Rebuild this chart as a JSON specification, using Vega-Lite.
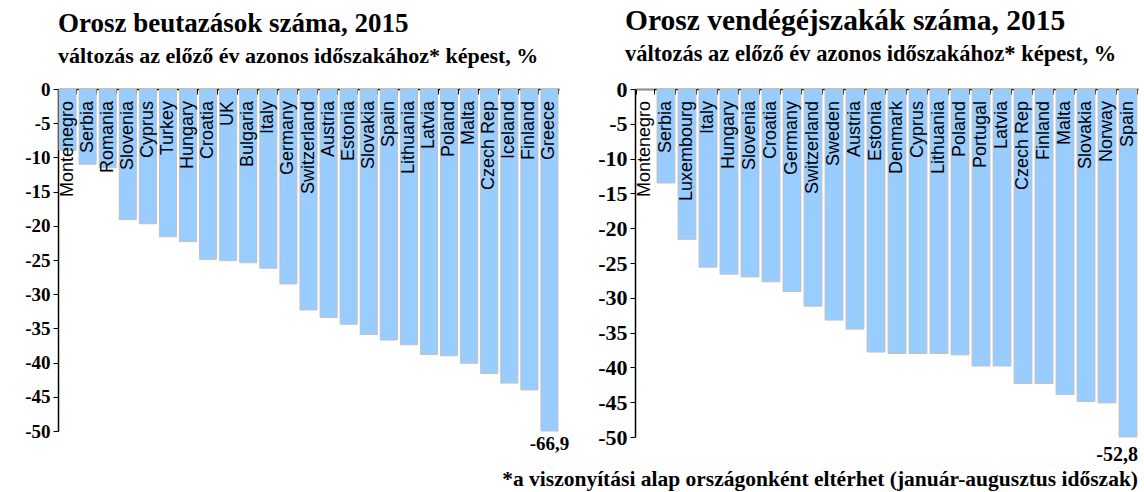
{
  "$schema": "https://vega.github.io/schema/vega-lite/v6.json",
  "padding": {"left": 24, "top": 6, "right": 6, "bottom": 0},
  "background": "white",
  "config": {
    "view": {"stroke": null},
    "locale": {"number": {"decimal": ",", "thousands": " ", "grouping": [3], "currency": ["", ""], "minus": "-"}},
    "concat": {"spacing": 27}
  },
  "datasets": {
    "beut": [
      {"country": "Montenegro", "value": -9.0},
      {"country": "Serbia", "value": -11.0},
      {"country": "Romania", "value": -11.5},
      {"country": "Slovenia", "value": -19.1},
      {"country": "Cyprus", "value": -19.7},
      {"country": "Turkey", "value": -21.6},
      {"country": "Hungary", "value": -22.3},
      {"country": "Croatia", "value": -24.9},
      {"country": "UK", "value": -25.1},
      {"country": "Bulgaria", "value": -25.4},
      {"country": "Italy", "value": -26.2},
      {"country": "Germany", "value": -28.5},
      {"country": "Switzerland", "value": -32.3},
      {"country": "Austria", "value": -33.4},
      {"country": "Estonia", "value": -34.4},
      {"country": "Slovakia", "value": -35.9},
      {"country": "Spain", "value": -36.7},
      {"country": "Lithuania", "value": -37.4},
      {"country": "Latvia", "value": -38.8},
      {"country": "Poland", "value": -39.0},
      {"country": "Malta", "value": -40.1},
      {"country": "Czech Rep", "value": -41.6},
      {"country": "Iceland", "value": -43.0},
      {"country": "Finland", "value": -44.0},
      {"country": "Greece", "value": -66.9}
    ],
    "vend": [
      {"country": "Montenegro", "value": 0},
      {"country": "Serbia", "value": -13.5},
      {"country": "Luxembourg", "value": -21.6},
      {"country": "Italy", "value": -25.6},
      {"country": "Hungary", "value": -26.6},
      {"country": "Slovenia", "value": -27.0},
      {"country": "Croatia", "value": -27.7},
      {"country": "Germany", "value": -29.1},
      {"country": "Switzerland", "value": -31.2},
      {"country": "Sweden", "value": -33.2},
      {"country": "Austria", "value": -34.5},
      {"country": "Estonia", "value": -37.8},
      {"country": "Denmark", "value": -38.0},
      {"country": "Cyprus", "value": -38.0},
      {"country": "Lithuania", "value": -38.0},
      {"country": "Poland", "value": -38.2},
      {"country": "Portugal", "value": -39.8},
      {"country": "Latvia", "value": -39.8},
      {"country": "Czech Rep", "value": -42.3},
      {"country": "Finland", "value": -42.3},
      {"country": "Malta", "value": -43.9},
      {"country": "Slovakia", "value": -44.9},
      {"country": "Norway", "value": -45.1},
      {"country": "Spain", "value": -52.8}
    ]
  },
  "title": {
    "text": "*a viszonyítási alap országonként eltérhet (január-augusztus időszak)",
    "orient": "bottom",
    "anchor": "end",
    "font": "Liberation Serif",
    "fontSize": 21.5,
    "fontWeight": "bold",
    "color": "black",
    "offset": 4
  },
  "hconcat": [
    {
      "data": {"name": "beut"},
      "width": 501,
      "height": 342,
      "title": {
        "text": "Orosz beutazások száma, 2015",
        "subtitle": "változás az előző év azonos időszakához* képest, %",
        "anchor": "start",
        "frame": "group",
        "dx": 0,
        "font": "Liberation Serif",
        "fontSize": 27,
        "fontWeight": "bold",
        "color": "black",
        "subtitleFont": "Liberation Serif",
        "subtitleFontSize": 22,
        "subtitleFontWeight": "bold",
        "subtitleColor": "black",
        "subtitlePadding": 8,
        "offset": 12
      },
      "encoding": {
        "x": {
          "field": "country", "type": "nominal", "sort": null,
          "scale": {"paddingInner": 0.15, "paddingOuter": 0.05},
          "axis": {"orient": "top", "title": null, "labels": false, "domainColor": "black", "domainWidth": 1.5, "tickColor": "black", "tickSize": -5, "tickBand": "extent"}
        },
        "y": {
          "field": "value", "type": "quantitative",
          "scale": {"domain": [-50, 0], "clamp": true, "nice": false},
          "axis": {"title": null, "values": [0, -5, -10, -15, -20, -25, -30, -35, -40, -45, -50], "grid": false, "domainColor": "black", "domainWidth": 1.5, "tickColor": "black", "tickSize": 5, "labelFont": "Liberation Serif", "labelFontSize": 19, "labelFontWeight": "bold", "labelColor": "black", "labelPadding": 3}
        }
      },
      "layer": [
        {"mark": {"type": "bar", "color": "#99CCFF", "stroke": "#C0C0C0", "strokeWidth": 1}},
        {
          "mark": {"type": "text", "angle": 270, "align": "right", "baseline": "middle", "dx": -12, "font": "Liberation Sans", "fontSize": 18, "color": "black"},
          "encoding": {"y": {"datum": 0}, "text": {"field": "country"}}
        },
        {
          "transform": [{"filter": "datum.value < -50"}],
          "mark": {"type": "text", "baseline": "top", "dy": 4, "font": "Liberation Serif", "fontSize": 19, "fontWeight": "bold", "color": "black"},
          "encoding": {"y": {"datum": -50}, "text": {"field": "value", "format": ".1f"}}
        }
      ]
    },
    {
      "data": {"name": "vend"},
      "width": 503,
      "height": 348,
      "title": {
        "text": "Orosz vendégéjszakák száma, 2015",
        "subtitle": "változás az előző év azonos időszakához* képest, %",
        "anchor": "start",
        "frame": "group",
        "dx": -10,
        "font": "Liberation Serif",
        "fontSize": 29.5,
        "fontWeight": "bold",
        "color": "black",
        "subtitleFont": "Liberation Serif",
        "subtitleFontSize": 22.5,
        "subtitleFontWeight": "bold",
        "subtitleColor": "black",
        "subtitlePadding": 6,
        "offset": 12
      },
      "encoding": {
        "x": {
          "field": "country", "type": "nominal", "sort": null,
          "scale": {"paddingInner": 0.15, "paddingOuter": 0.05},
          "axis": {"orient": "top", "title": null, "labels": false, "domainColor": "black", "domainWidth": 1.5, "tickColor": "black", "tickSize": -5, "tickBand": "extent"}
        },
        "y": {
          "field": "value", "type": "quantitative",
          "scale": {"domain": [-50, 0], "clamp": true, "nice": false},
          "axis": {"title": null, "values": [0, -5, -10, -15, -20, -25, -30, -35, -40, -45, -50], "grid": false, "domainColor": "black", "domainWidth": 1.5, "tickColor": "black", "tickSize": 5, "labelFont": "Liberation Serif", "labelFontSize": 22, "labelFontWeight": "bold", "labelColor": "black", "labelPadding": 3}
        }
      },
      "layer": [
        {"mark": {"type": "bar", "color": "#99CCFF", "stroke": "#C0C0C0", "strokeWidth": 1}},
        {
          "mark": {"type": "text", "angle": 270, "align": "right", "baseline": "middle", "dx": -12, "font": "Liberation Sans", "fontSize": 18, "color": "black"},
          "encoding": {"y": {"datum": 0}, "text": {"field": "country"}}
        },
        {
          "transform": [{"filter": "datum.value < -50"}],
          "mark": {"type": "text", "baseline": "top", "dy": 8, "align": "right", "dx": 10, "font": "Liberation Serif", "fontSize": 20, "fontWeight": "bold", "color": "black"},
          "encoding": {"y": {"datum": -50}, "text": {"field": "value", "format": ".1f"}}
        }
      ]
    }
  ]
}
